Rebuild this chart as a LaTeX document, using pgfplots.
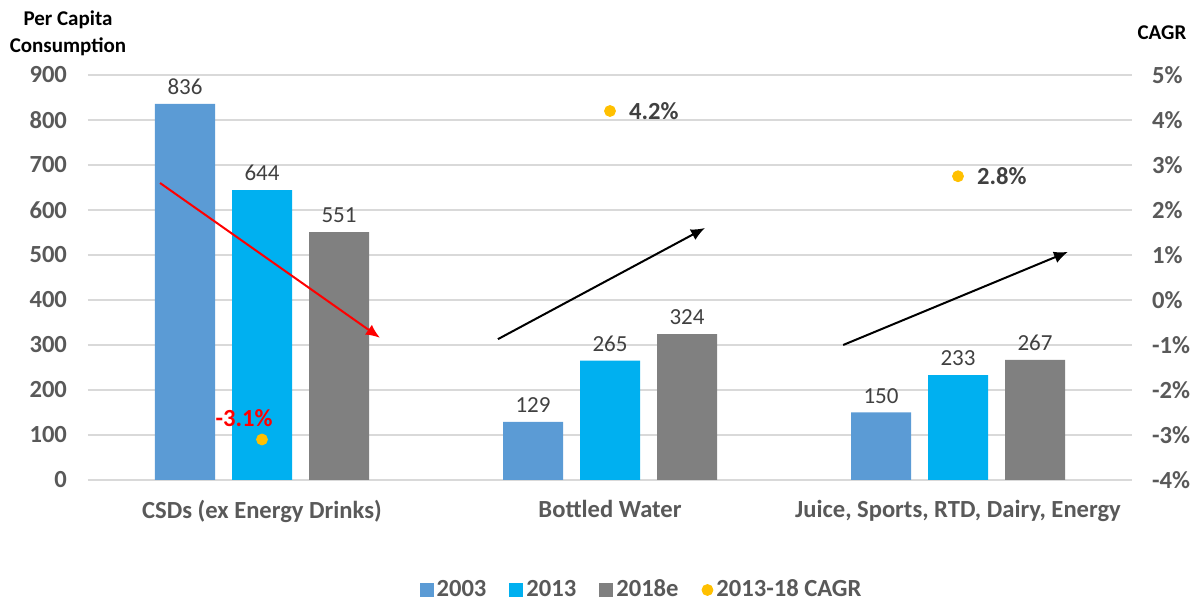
\documentclass[border=0pt]{standalone}
\usepackage{fontspec}
\setmainfont{Carlito}
\usepackage{pgfplots}
\pgfplotsset{compat=1.18}
\usetikzlibrary{arrows.meta}
\definecolor{cA}{HTML}{5B9BD5}
\definecolor{cB}{HTML}{00B0F0}
\definecolor{cC}{HTML}{808080}
\definecolor{cagr}{HTML}{FFC000}
\definecolor{tickgray}{HTML}{595959}
\definecolor{labgray}{HTML}{404040}
\definecolor{gridc}{HTML}{D9D9D9}
\newcommand{\tf}{\fontsize{11.5}{14}\selectfont}
\newcommand{\tb}{\fontsize{12.3}{14.5}\selectfont}
\begin{document}
\begin{tikzpicture}
\begin{axis}[name=ax, scale only axis, width=522pt, height=202.5pt,
  xmin=-0.5, xmax=2.5, ymin=0, ymax=900,
  ytick={0,100,...,900}, xtick={0,1,2},
  xticklabels={CSDs (ex Energy Drinks), Bottled Water, {Juice, Sports, RTD, Dairy, Energy}},
  axis line style={draw=none}, tick style={draw=none},
  ymajorgrids, grid style={gridc, line width=0.9pt},
  /pgf/number format/assume math mode=true,
  tick label style={font=\tb\bfseries, text=tickgray},
  xticklabel style={yshift=-2.5pt},
  yticklabel style={xshift=-7pt},
  ybar=8.5pt, bar width=30pt,
  nodes near coords,
  every node near coord/.append style={font=\tf, text=labgray, yshift=1pt},
  legend image code/.code={\fill[#1] (0pt,-3.5pt) rectangle (7pt,3.5pt);},
  legend columns=-1,
  legend style={draw=none, at={(0.5,0)}, anchor=center, yshift=-55pt, xshift=16pt,
    font=\tb\bfseries, text=tickgray, nodes={inner sep=1.5pt},
    /tikz/every even column/.append style={column sep=10pt}},
]
\addplot[fill=cA, draw=none] coordinates {(0,836) (1,129) (2,150)};
\addplot[fill=cB, draw=none] coordinates {(0,644) (1,265) (2,233)};
\addplot[fill=cC, draw=none] coordinates {(0,551) (1,324) (2,267)};
\addlegendimage{legend image code/.code={\fill[cagr] (3.5pt,0pt) circle (2.75pt);}}
\legend{2003, 2013, 2018e, 2013-18 CAGR}
\draw[red, line width=1pt, -{Latex[length=7pt,width=6pt]}] (axis cs:-0.293,660) -- (axis cs:0.339,316);
\draw[black, line width=1pt, -{Latex[length=7pt,width=6pt]}] (axis cs:0.678,313) -- (axis cs:1.273,560);
\draw[black, line width=1pt, -{Latex[length=7pt,width=6pt]}] (axis cs:1.670,300) -- (axis cs:2.316,507);
\end{axis}
\begin{axis}[scale only axis, width=522pt, height=202.5pt,
  xmin=-0.5, xmax=2.5, ymin=-4, ymax=5,
  ytick={-4,-3,...,5},
  axis y line*=right, hide x axis,
  axis line style={draw=none}, tick style={draw=none},
  /pgf/number format/assume math mode=true,
  yticklabel={\pgfmathprintnumber{\tick}\%},
  tick label style={font=\tb\bfseries, text=tickgray},
  yticklabel style={xshift=6.5pt},
]
\addplot[only marks, mark=*, mark size=2.75pt, color=cagr,
  nodes near coords={\pgfmathprintnumber[fixed,precision=1,fixed zerofill]{\pgfplotspointmeta}\%},
  point meta=y,
  every node near coord/.append style={anchor=west, xshift=6pt, font=\tb\bfseries, text=labgray}]
  coordinates {(1,4.2) (2,2.75)};
\addplot[only marks, mark=*, mark size=2.75pt, color=cagr,
  nodes near coords={\pgfmathprintnumber[fixed,precision=1,fixed zerofill]{\pgfplotspointmeta}\%},
  point meta=y,
  every node near coord/.append style={anchor=center, xshift=-9pt, yshift=10.5pt, font=\tb\bfseries, text=red}]
  coordinates {(0,-3.1)};
\end{axis}
\node[align=center, font=\fontsize{10.5}{13.5}\selectfont\bfseries, anchor=center] at ([xshift=-10pt, yshift=20.75pt]ax.north west) {Per Capita\\Consumption};
\node[font=\fontsize{10.5}{13.5}\selectfont\bfseries, anchor=center] at ([xshift=15pt, yshift=21pt]ax.north east) {CAGR};
\pgfresetboundingbox
\path ([xshift=-44pt,yshift=-60.5pt]ax.south west) rectangle ([xshift=30pt,yshift=37.5pt]ax.north east);
\end{tikzpicture}
\end{document}
